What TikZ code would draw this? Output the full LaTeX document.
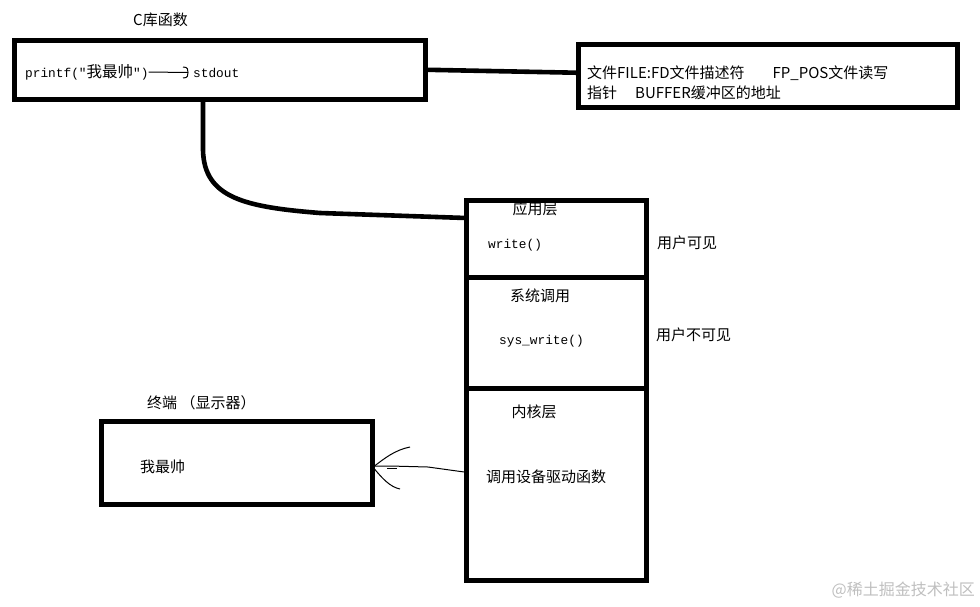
\documentclass[tikz,border=0pt]{standalone}
\usepackage{fontspec}
\setmainfont{Noto Sans CJK SC}
\newfontfamily\monofont{Liberation Mono}
\usetikzlibrary{calc}
\begin{document}
\begin{tikzpicture}[x=1pt,y=-1pt,
  box/.style={draw=black,line width=5pt,inner sep=0pt,outer sep=0pt},
  conn/.style={line width=4.6pt},
  thinline/.style={line width=1pt},
  cjk/.style={font=\fontsize{15}{20}\selectfont,inner sep=0pt},
  code/.style={font=\monofont\fontsize{12.8}{15}\selectfont,inner sep=0pt},
  wmark/.style={font=\fontsize{16}{18}\selectfont,text=black!25,inner sep=0pt}]
\fill[white] (0,0) rectangle (980,606);
\path[use as bounding box] (0,0) rectangle (980,606);

% boxes
\node[box,minimum width=411pt,minimum height=58.5pt] (clib) at (220,69.75) {};
\node[box,minimum width=379.5pt,minimum height=63.5pt] (info) at (767.75,75.75) {};
\node[box,minimum width=180pt,minimum height=77pt] (app) at (556,238.5) {};
\node[box,minimum width=180pt,minimum height=111.5pt] (sys) at (556,332.75) {};
\node[box,minimum width=180pt,minimum height=191.5pt] (kern) at (556,484.25) {};
\node[box,minimum width=271.5pt,minimum height=83pt] (term) at (236.75,462.5) {};

% texts
\node[cjk] (tclib) at (160.5,20) {C库函数};
\node[code,anchor=west] (pf) at (25,72) {printf("{\rmfamily\fontsize{15.5}{18}\selectfont 我最帅}")};
\node[code,anchor=west] (so) at (193,73) {stdout};
\node[cjk,anchor=west,align=left] (infotext) at (587,83) {文件FILE:FD文件描述符\hspace{28pt}FP\_POS文件读写\\指针\hspace{18pt}BUFFER缓冲区的地址};
\node[cjk] (tapp) at (535,209) {应用层};
\node[code,anchor=west] (wr) at (488,245) {write()};
\node[cjk] (tsys) at (540,296) {系统调用};
\node[code,anchor=west] (swr) at (499,341) {sys\_write()};
\node[cjk] (tkern) at (534,412) {内核层};
\node[cjk,anchor=west] (drv) at (486,477) {调用设备驱动函数};
\node[cjk,anchor=west] (vis) at (657,243) {用户可见};
\node[cjk,anchor=west] (invis) at (656,335) {用户不可见};
\node[cjk,anchor=west] (tterm) at (147,403) {终端 （显示器）};
\node[cjk,anchor=west] (out) at (140,467) {我最帅};
\node[wmark,anchor=east] (wm) at (975,590) {@稀土掘金技术社区};

% connectors
\draw[conn] (clib.east) -- ($(info.west)+(0,-3)$);
\coordinate (ctop) at ($(clib.south west)+(188.5,0)$);
\coordinate (cend) at ($(app.north west)+(0,18)$);
\draw[conn] (ctop) -- (203,150) .. controls (204,198) and (245,207) .. (320,213) -- (cend);

% printf -> stdout
\coordinate (ah) at ($(so.west)+(-5,-0.5)$);
\draw[thinline] (pf.east) -- (ah);
\draw[thinline] ($(ah)+(-5,-5.5)$) .. controls ($(ah)+(0,-5.5)$) and ($(ah)+(0,-3)$) .. (ah)
  .. controls ($(ah)+(0,3)$) and ($(ah)+(0,5.5)$) .. ($(ah)+(-5,5.5)$);

% kernel -> terminal
\coordinate (bs) at ($(kern.west)+(0,-12)$);
\coordinate (tip) at ($(term.east)+(2,3.5)$);
\draw[thinline] (bs) -- (428,467) -- (390,466) -- (tip);
\draw[thinline] (tip) .. controls (385,458) and (395,450) .. (410,447);
\draw[thinline] ($(tip)+(0,3)$) .. controls (382,478) and (390,487) .. (400,489);
\draw[thinline] (387,468) -- (397,468);
\end{tikzpicture}
\end{document}
